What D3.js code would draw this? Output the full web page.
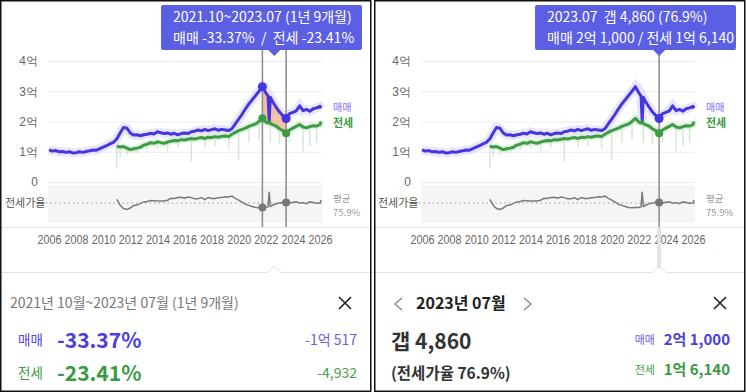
<!DOCTYPE html>
<html>
<head>
<meta charset="utf-8">
<script src="https://cdn.jsdelivr.net/npm/d3@7"></script>
<style>
  body { margin: 0; background: #fff; }
  svg { display: block; font-family: "Noto Sans CJK KR", "Noto Sans", sans-serif; }
</style>
</head>
<body>
<svg id="chart" width="746" height="392"></svg>
<script>
// monthly samples, "YYYY.MM"
const dates = [
  "2006.01","2006.04","2006.07","2006.10","2007.01","2007.04","2007.07","2007.10",
  "2008.01","2008.04","2008.07","2008.10","2009.01","2009.04","2009.07","2009.10",
  "2010.01","2010.04","2010.07","2010.10","2011.01","2011.04","2011.07","2011.10",
  "2012.01","2012.04","2012.07","2012.10","2013.01","2013.04","2013.07","2013.10",
  "2014.01","2014.04","2014.07","2014.10","2015.01","2015.04","2015.07","2015.10",
  "2016.01","2016.04","2016.07","2016.10","2017.01","2017.04","2017.07","2017.10",
  "2018.01","2018.04","2018.07","2018.10","2019.01","2019.04","2019.07","2019.10",
  "2020.01","2020.04","2020.07","2020.10","2021.01","2021.04","2021.07","2021.10",
  "2022.01","2022.03","2022.04","2022.05","2022.07","2022.10",
  "2023.01","2023.04","2023.07","2023.10","2024.01","2024.04","2024.07","2024.10",
  "2025.01","2025.04","2025.07","2025.10","2026.01","2026.02"
];
// 억 원
const maemae = [
  1.06,1.02,1.04,1.00, 1.01,0.98,1.00,0.96,
  0.97,1.00,0.98,1.01, 1.03,1.06,1.05,1.10,
  1.15,1.20,1.26,1.31, 1.42,1.62,1.80,1.78,
  1.62,1.55,1.56,1.53, 1.56,1.58,1.61,1.59,
  1.66,1.63,1.60,1.62, 1.58,1.61,1.56,1.60,
  1.62,1.60,1.66,1.68, 1.72,1.69,1.74,1.70,
  1.73,1.76,1.71,1.74, 1.72,1.70,1.76,1.92,
  2.08,2.24,2.42,2.58, 2.72,2.86,3.00,3.1517,
  2.95,2.84,2.02,2.80,2.66,2.48,
  2.32,2.20,2.10,2.26, 2.30,2.35,2.52,2.36,
  2.40,2.34,2.42,2.45, 2.50,2.44
];
const jeonse = [
  null,null,null,null, null,null,null,null,
  null,null,null,null, null,null,null,null,
  null,null,null,null, 1.18,1.16,1.17,1.12,
  1.07,1.10,1.12,1.15, 1.22,1.25,1.30,1.28,
  1.33,1.30,1.28,1.32, 1.35,1.37,1.36,1.40,
  1.39,1.41,1.44,1.42, 1.45,1.47,1.44,1.48,
  1.47,1.50,1.48,1.51, 1.52,1.50,1.58,1.64,
  1.70,1.74,1.78,1.84, 1.88,1.92,2.00,2.1072,
  1.98,1.95,1.99,1.93,1.90,1.85,
  1.76,1.70,1.614,1.72, 1.78,1.84,1.90,1.82,
  1.79,1.83,1.86,1.85, 1.90,2.00
];
// faint low deals under the 전세 line
const jeonseDips = [
  ["2011.01",0.45],["2011.04",0.80],["2011.10",0.90],["2012.07",0.95],["2013.04",1.05],
  ["2014.01",1.10],["2014.10",1.00],["2015.07",1.15],["2016.07",0.68],["2017.07",1.15],
  ["2018.04",1.20],["2019.04",1.10],["2020.01",0.72],["2020.10",1.30],["2021.07",1.40],
  ["2022.05",1.30],["2023.01",1.25],["2023.10",1.30],["2024.10",1.00],["2025.04",1.20],
  ["2025.10",1.30]
];
const xTicks = [2006,2008,2010,2012,2014,2016,2018,2020,2022,2024,2026];
const yTicks = [0,1,2,3,4];
const rangeStart = "2021.10", rangeEnd = "2023.07", pickDate = "2023.07";

const mmColor = "#4636e0", jsColor = "#3d9b45", tipColor = "#5b5fe3";

const toYear = s => +s.slice(0,4) + (+s.slice(5,7) - 1) / 12;
const rows = dates.map((d, i) => ({ t: toYear(d), mm: maemae[i], js: jeonse[i] }));
rows.forEach(r => r.ratio = r.js == null ? null : r.js / r.mm * 100);
const rowAt = s => rows[dates.indexOf(s)];

const x = d3.scaleLinear().domain([2006, 2026]).range([49, 320]);
const y = d3.scaleLinear().domain([0, 4]).range([182, 61]);
const yr = d3.scaleLinear().domain([38, 114]).range([222, 184]);

const svg = d3.select("#chart");

function drawChart(g) {
  g.append("rect").attr("x", 48).attr("y", 185).attr("width", 274).attr("height", 38).attr("fill", "#f5f5f5");

  const ya = g.append("g").attr("transform", "translate(48,0)")
    .call(d3.axisLeft(y).tickValues(yTicks).tickSize(-274).tickPadding(10)
      .tickFormat(v => v === 0 ? "0" : v + "억"));
  ya.select(".domain").remove();
  ya.selectAll("line").attr("stroke", "#ebebeb");
  ya.selectAll("text").attr("fill", "#666").style("font-size", "12px");

  g.append("line").attr("x1", 46).attr("x2", 322).attr("y1", yr(75.9)).attr("y2", yr(75.9))
    .attr("stroke", "#999").attr("stroke-dasharray", "1.5,3");
  g.append("text").attr("x", 5).attr("y", yr(75.9) + 4).attr("font-size", 11).attr("fill", "#555").text("전세가율");
  g.append("text").attr("x", 333).attr("y", 202).attr("font-size", 9.5).attr("fill", "#999").text("평균");
  g.append("text").attr("x", 333).attr("y", 216).attr("font-size", 9.5).attr("fill", "#999").text("75.9%");

  g.append("line").attr("x1", 0).attr("x2", 371).attr("y1", 227.5).attr("y2", 227.5).attr("stroke", "#e6e6e6");

  const xa = g.append("g").attr("transform", "translate(0,235)")
    .call(d3.axisBottom(x).tickValues(xTicks).tickSize(0).tickPadding(0).tickFormat(d3.format("d")));
  xa.select(".domain").remove();
  xa.selectAll("text").attr("fill", "#666").style("font-size", "12px")
    .attr("textLength", 24).attr("lengthAdjust", "spacingAndGlyphs");

  const mmLine = d3.line().x(d => x(d.t)).y(d => y(d.mm));
  const jsLine = d3.line().defined(d => d.js != null).x(d => x(d.t)).y(d => y(d.js));
  const rLine = d3.line().defined(d => d.ratio != null).x(d => x(d.t)).y(d => yr(d.ratio));

  // faint raw-deal spread
  g.append("path").datum(rows).attr("d", mmLine).attr("fill", "none")
    .attr("stroke", "#cbc7f6").attr("stroke-width", 9).attr("opacity", 0.45);
  g.selectAll(".dip").data(jeonseDips).join("line")
    .attr("x1", d => x(toYear(d[0]))).attr("x2", d => x(toYear(d[0])))
    .attr("y1", d => y(rowAt(d[0]).js)).attr("y2", d => y(d[1]))
    .attr("stroke", "#a9d6a9").attr("stroke-width", 1.5).attr("opacity", 0.5);
  g.append("path").datum(rows).attr("d", jsLine).attr("fill", "none")
    .attr("stroke", "#cfe9cf").attr("stroke-width", 7).attr("opacity", 0.6);

  return { mmLine, jsLine, rLine };
}

function drawLines(g, L) {
  g.append("path").datum(rows).attr("d", L.mmLine).attr("fill", "none")
    .attr("stroke", mmColor).attr("stroke-width", 3).attr("stroke-linejoin", "round");
  g.append("path").datum(rows).attr("d", L.jsLine).attr("fill", "none")
    .attr("stroke", jsColor).attr("stroke-width", 3).attr("stroke-linejoin", "round");
  g.append("path").datum(rows).attr("d", L.rLine).attr("fill", "none")
    .attr("stroke", "#7a7a7a").attr("stroke-width", 1.5);
  g.append("text").attr("x", 333).attr("y", 111).attr("font-size", 10).attr("fill", "#7b70ee").text("매매");
  g.append("text").attr("x", 333).attr("y", 127).attr("font-size", 11).attr("font-weight", 700).attr("fill", jsColor).text("전세");
}

function drawDots(g, s) {
  const r = rowAt(s);
  g.append("circle").attr("cx", x(r.t)).attr("cy", y(r.mm)).attr("r", 4.5).attr("fill", mmColor);
  g.append("circle").attr("cx", x(r.t)).attr("cy", y(r.js)).attr("r", 4).attr("fill", jsColor);
  g.append("circle").attr("cx", x(r.t)).attr("cy", yr(r.ratio)).attr("r", 4).attr("fill", "#777");
}

function tooltip(g, x0, x1, px, lines) {
  g.append("rect").attr("x", x0).attr("y", 5).attr("width", x1 - x0).attr("height", 45).attr("rx", 2).attr("fill", tipColor);
  g.append("path").attr("d", `M${px - 6},50L${px},56L${px + 6},50Z`).attr("fill", tipColor);
  lines.forEach((t, i) => g.append("text").attr("x", x0 + 12).attr("y", 22 + i * 21)
    .attr("font-size", 14).attr("fill", "#fff").attr("xml:space", "preserve").text(t));
}

function separator(g, nx) {
  g.append("path").attr("d", `M0,272.5H${nx - 7}L${nx},266L${nx + 7},272.5H371`)
    .attr("fill", "none").attr("stroke", "#e3e3e3");
}

// ---------- left panel: range ----------
const left = svg.append("g");
const L1 = drawChart(left);
const inRange = rows.filter(d => d.t >= toYear(rangeStart) - 1e-6 && d.t <= toYear(rangeEnd) + 1e-6);
left.append("path").datum(inRange)
  .attr("d", d3.area().x(d => x(d.t)).y0(d => y(d.js)).y1(d => y(d.mm)))
  .attr("fill", "#f6b08c").attr("opacity", 0.75);
drawLines(left, L1);
[rangeStart, rangeEnd].forEach(s => left.append("line")
  .attr("x1", x(toYear(s))).attr("x2", x(toYear(s))).attr("y1", 50).attr("y2", 227)
  .attr("stroke", "#8a8a8a").attr("stroke-width", 1.5));
drawDots(left, rangeStart);
drawDots(left, rangeEnd);
const midX = (x(toYear(rangeStart)) + x(toYear(rangeEnd))) / 2;
tooltip(left, 161, 362, midX, ["2021.10~2023.07 (1년 9개월)", "매매 -33.37%  /  전세 -23.41%"]);
separator(left, midX);

left.append("text").attr("x", 10).attr("y", 308).attr("font-size", 14).attr("fill", "#777").text("2021년 10월~2023년 07월 (1년 9개월)");
left.append("text").attr("x", 18).attr("y", 345).attr("font-size", 13.5).attr("fill", "#5548e6").text("매매");
left.append("text").attr("x", 57).attr("y", 348).attr("font-size", 21).attr("font-weight", 700).attr("fill", "#4a3de3").text("-33.37%");
left.append("text").attr("x", 357).attr("y", 345).attr("text-anchor", "end").attr("font-size", 14).attr("fill", "#6a60e8").text("-1억 517");
left.append("text").attr("x", 18).attr("y", 378).attr("font-size", 13.5).attr("fill", jsColor).text("전세");
left.append("text").attr("x", 57).attr("y", 381).attr("font-size", 21).attr("font-weight", 700).attr("fill", "#3a9a44").text("-23.41%");
left.append("text").attr("x", 357).attr("y", 378).attr("text-anchor", "end").attr("font-size", 14).attr("fill", "#4aa050").text("-4,932");

// ---------- right panel: single month ----------
const right = svg.append("g").attr("transform", "translate(373,0)");
const L2 = drawChart(right);
drawLines(right, L2);
const px = x(toYear(pickDate));
right.append("line").attr("x1", px).attr("x2", px).attr("y1", 227).attr("y2", 268)
  .attr("stroke", "#e2e2e2").attr("stroke-width", 4);
right.append("line").attr("x1", px).attr("x2", px).attr("y1", 50).attr("y2", 227)
  .attr("stroke", "#8a8a8a").attr("stroke-width", 1.5);
drawDots(right, pickDate);
tooltip(right, 162, 363, px, ["2023.07  갭 4,860 (76.9%)", "매매 2억 1,000 / 전세 1억 6,140"]);
separator(right, px);

right.append("path").attr("d", "M29,298L22,304L29,310").attr("fill", "none").attr("stroke", "#888").attr("stroke-width", 1.4);
right.append("text").attr("x", 43).attr("y", 309).attr("font-size", 16).attr("font-weight", 700).attr("fill", "#222").text("2023년 07월");
right.append("path").attr("d", "M151,298L158,304L151,310").attr("fill", "none").attr("stroke", "#888").attr("stroke-width", 1.4);
right.append("text").attr("x", 18).attr("y", 349).attr("font-size", 21).attr("font-weight", 700).attr("fill", "#333").text("갭 4,860");
right.append("text").attr("x", 18).attr("y", 379).attr("font-size", 15.5).attr("font-weight", 700).attr("fill", "#333").text("(전세가율 76.9%)");
right.append("text").attr("x", 282).attr("y", 344).attr("text-anchor", "end").attr("font-size", 11).attr("fill", "#6a60e8").text("매매");
right.append("text").attr("x", 357).attr("y", 345).attr("text-anchor", "end").attr("font-size", 15).attr("font-weight", 700).attr("fill", "#4a3de3").text("2억 1,000");
right.append("text").attr("x", 282).attr("y", 374).attr("text-anchor", "end").attr("font-size", 11).attr("fill", jsColor).text("전세");
right.append("text").attr("x", 357).attr("y", 375).attr("text-anchor", "end").attr("font-size", 15).attr("font-weight", 700).attr("fill", "#3a9a44").text("1억 6,140");

// close buttons and frames
[[0, 345], [373, 347]].forEach(([ox, cx]) => {
  svg.append("path").attr("transform", `translate(${ox + cx},303)`)
    .attr("d", "M-6,-6L6,6M6,-6L-6,6").attr("stroke", "#222").attr("stroke-width", 1.6);
});
svg.append("rect").attr("x", 0.75).attr("y", 0.75).attr("width", 370).attr("height", 390.5)
  .attr("fill", "none").attr("stroke", "#111").attr("stroke-width", 1.5);
svg.append("rect").attr("x", 374.75).attr("y", 0.75).attr("width", 370).attr("height", 390.5)
  .attr("fill", "none").attr("stroke", "#111").attr("stroke-width", 1.5);
</script>
</body>
</html>
